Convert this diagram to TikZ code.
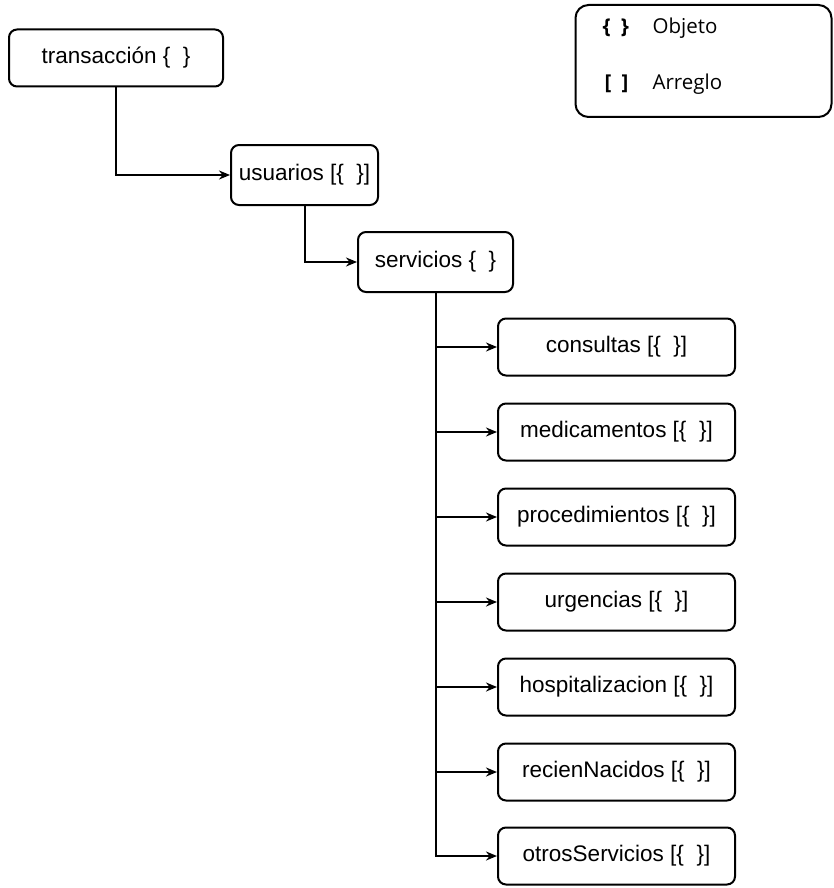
\documentclass[tikz,border=0pt]{standalone}
\usepackage{fontspec}
\setmainfont{Liberation Sans}
\newfontfamily\legendfont{Open Sans}
\usetikzlibrary{arrows.meta}
\begin{document}
\begin{tikzpicture}[x=1pt,y=-1pt,
  box/.style={draw=black,line width=2pt,rounded corners=8pt,inner sep=0pt,
    font=\fontsize{22.5}{26}\selectfont},
  child/.style={box,minimum width=237pt,minimum height=57pt},
  conn/.style={line width=2pt,-{Stealth[length=11pt,width=9pt]}},
  legtext/.style={font=\legendfont\fontsize{20.5}{24}\selectfont,anchor=base west}]
\useasboundingbox (0,0) rectangle (834,888);
% legend
\node[draw=black,line width=2pt,rounded corners=13pt,minimum width=256pt,minimum height=112pt,inner sep=0pt] (legend) at (703.5,61) {};
\node[legtext,font=\legendfont\fontsize{20.5}{24}\selectfont\bfseries] (lobj) at (599,34) {\{\enspace\}};
\node[legtext] (tobj) at (649,34) {Objeto};
\node[legtext,font=\legendfont\fontsize{20.5}{24}\selectfont\bfseries] (larr) at (601,90) {[\enspace]};
\node[legtext] (tarr) at (649,90) {Arreglo};
% main nodes
\node[box,minimum width=214pt,minimum height=57pt] (trans) at (116,58) {transacción \{ \ \}};
\node[box,minimum width=147pt,minimum height=60pt] (usu) at (304.5,175) {usuarios [\{ \ \}]};
\node[box,minimum width=155pt,minimum height=60pt] (serv) at (435.5,262) {servicios \{ \ \}};
\node[child] (c1) at (616.5,347) {consultas [\{ \ \}]};
\node[child] (c2) at (616.5,432) {medicamentos [\{ \ \}]};
\node[child] (c3) at (616.5,517) {procedimientos [\{ \ \}]};
\node[child] (c4) at (616.5,602) {urgencias [\{ \ \}]};
\node[child] (c5) at (616.5,687) {hospitalizacion [\{ \ \}]};
\node[child] (c6) at (616.5,772) {recienNacidos [\{ \ \}]};
\node[child] (c7) at (616.5,856) {otrosServicios [\{ \ \}]};
% connectors
\draw[conn] (trans.south) |- (usu.west);
\draw[conn] (usu.south) |- (serv.west);
\foreach \c in {c1,c2,c3,c4,c5,c6,c7}{
  \draw[conn] (serv.south) |- (\c.west);
}
\end{tikzpicture}
\end{document}
